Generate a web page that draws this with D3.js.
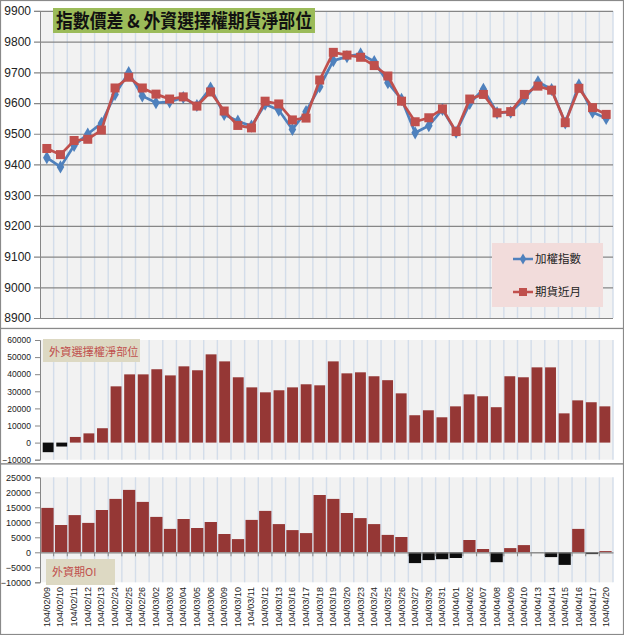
<!DOCTYPE html>
<html><head><meta charset="utf-8">
<script src="https://cdn.jsdelivr.net/npm/d3@7"></script>
<style>
body{margin:0;background:#fff;}
svg{display:block;font-family:"Liberation Sans",Arial,sans-serif;}
</style></head>
<body><svg id="c" width="624" height="635"></svg>
<script>
const dates = ["104/02/09","104/02/10","104/02/11","104/02/12","104/02/13","104/02/24","104/02/25","104/02/26","104/03/02","104/03/03","104/03/04","104/03/05","104/03/06","104/03/09","104/03/10","104/03/11","104/03/12","104/03/13","104/03/16","104/03/17","104/03/18","104/03/19","104/03/20","104/03/23","104/03/24","104/03/25","104/03/26","104/03/27","104/03/30","104/03/31","104/04/01","104/04/02","104/04/07","104/04/08","104/04/09","104/04/10","104/04/13","104/04/14","104/04/15","104/04/16","104/04/17","104/04/20"];
const taiex = [9422,9392,9462,9499,9534,9628,9699,9623,9601,9604,9618,9592,9649,9563,9541,9525,9596,9577,9514,9572,9653,9738,9751,9760,9735,9666,9612,9503,9526,9579,9505,9599,9645,9568,9570,9613,9669,9644,9535,9659,9570,9550];
const futures = [9452,9432,9478,9482,9512,9649,9684,9649,9629,9613,9620,9590,9636,9574,9527,9519,9606,9597,9545,9551,9675,9765,9756,9749,9722,9688,9606,9539,9552,9581,9507,9613,9628,9568,9572,9628,9655,9642,9536,9648,9585,9563];
const optionsNet = [-5600,-2300,3300,5400,8400,32900,39900,39900,42900,39300,44600,42300,51600,47500,38200,32300,29400,30600,32300,34100,33500,47500,40500,41100,38800,36500,28800,16000,18900,14800,21200,28200,27100,20700,38800,38200,44000,44000,17100,24700,23600,21200];
const futuresOI = [14800,9100,12400,9800,14100,17800,20800,16800,11800,7800,11100,8100,10100,6100,4400,10800,13800,9400,7400,6400,19100,17800,13100,11400,9400,5800,5100,-3600,-2600,-2300,-1900,4100,1100,-3300,1400,2400,-100,-1600,-4200,7800,-600,400];
const topTicks = [8900,9000,9100,9200,9300,9400,9500,9600,9700,9800,9900];
const midTicks = [-10000,0,10000,20000,30000,40000,50000,60000];
const botTicks = [-10000,-5000,0,5000,10000,15000,20000,25000];

const svg = d3.select("#c");
const L = 40, R = 613;
const x = d3.scaleBand().domain(dates).range([L, R]).padding(0);
const bw = x.bandwidth();
const cx = d => x(d) + bw/2;
const gridC = "#d3ddea", bgC = "#f2f2f2", axC = "#868686";

[[0.5,0.5,623,328],[0.5,328.5,623,135.5],[0.5,464,623,170.5]].forEach(p=>{
  svg.append("rect").attr("x",p[0]).attr("y",p[1]).attr("width",p[2]).attr("height",p[3])
    .attr("fill","#fff").attr("stroke","#8a8a8a").attr("stroke-width",1.2);
});

function plotBg(y0,y1){
  svg.append("rect").attr("x",L).attr("y",y0).attr("width",R-L).attr("height",y1-y0).attr("fill",bgC);
  svg.append("g").selectAll("line").data(dates.slice(1).concat(["__end"])).join("line")
    .attr("x1",d=>d==="__end"?R:x(d)).attr("x2",d=>d==="__end"?R:x(d))
    .attr("y1",y0).attr("y2",y1).attr("stroke",gridC).attr("stroke-width",1.4);
}

// ---------- top chart ----------
const yT = d3.scaleLinear().domain([8900,9900]).range([318,10.9]);
plotBg(10.9,318);
const gT = svg.append("g").attr("transform",`translate(${L},0)`)
  .call(d3.axisLeft(yT).tickValues(topTicks).tickSize(6).tickSizeInner(-(R-L)).tickPadding(9).tickFormat(d3.format("d")));
gT.select(".domain").attr("stroke",axC);
gT.selectAll(".tick line").attr("stroke",axC).attr("stroke-width",1.2).attr("x1",-6);
gT.selectAll(".tick text").attr("font-size",12).attr("fill","#222");

const line = arr => d3.line().x((d,i)=>cx(dates[i])).y(d=>yT(d))(arr);
svg.append("path").attr("d",line(taiex)).attr("fill","none").attr("stroke","#4f81bd").attr("stroke-width",2.7);
svg.append("g").selectAll("path").data(taiex).join("path")
  .attr("transform",(d,i)=>`translate(${cx(dates[i])},${yT(d)})`)
  .attr("d",d3.symbol(d3.symbolDiamond,50)).attr("fill","#4f81bd");
svg.append("path").attr("d",line(futures)).attr("fill","none").attr("stroke","#c0504d").attr("stroke-width",2.7);
svg.append("g").selectAll("rect").data(futures).join("rect")
  .attr("x",(d,i)=>cx(dates[i])-4.5).attr("y",d=>yT(d)-4.5).attr("width",9).attr("height",9).attr("fill","#c0504d");

// title
svg.append("rect").attr("x",53).attr("y",8).attr("width",262).attr("height",25).attr("fill","#9bbb59");
svg.append("text").attr("x",56).attr("y",28).attr("textLength",256).attr("lengthAdjust","spacingAndGlyphs")
  .attr("font-family","Noto Sans CJK TC, sans-serif").attr("font-weight","bold").attr("font-size",19).attr("fill","#111")
  .text("指數價差 & 外資選擇權期貨淨部位");

// legend
svg.append("rect").attr("x",492).attr("y",243).attr("width",111).attr("height",64).attr("fill","#f2dcdb");
const leg = [{t:"加權指數",c:"#4f81bd",m:"d",y:259},{t:"期貨近月",c:"#c0504d",m:"s",y:292}];
leg.forEach(l=>{
  svg.append("line").attr("x1",513).attr("x2",533).attr("y1",l.y).attr("y2",l.y).attr("stroke",l.c).attr("stroke-width",2.5);
  if(l.m==="d") svg.append("path").attr("transform",`translate(523,${l.y})`).attr("d",d3.symbol(d3.symbolDiamond,36)).attr("fill",l.c);
  else svg.append("rect").attr("x",519).attr("y",l.y-4).attr("width",8).attr("height",8).attr("fill",l.c);
  svg.append("text").attr("x",535).attr("y",l.y+4).attr("font-family","Noto Sans CJK TC, sans-serif")
    .attr("font-size",11.5).attr("fill","#222").text(l.t);
});

// ---------- middle chart ----------
const yM = d3.scaleLinear().domain([-10000,60000]).range([459.7,340]);
plotBg(340,459.7);
const gM = svg.append("g").attr("transform",`translate(${L},0)`)
  .call(d3.axisLeft(yM).tickValues(midTicks).tickSize(5).tickPadding(4).tickFormat(d3.format("d")));
gM.select(".domain").attr("stroke",axC);
gM.selectAll(".tick line").attr("stroke",axC);
gM.selectAll(".tick text").attr("font-size",8.5).attr("fill","#222");
const xM = d3.scaleBand().domain(dates).range([L,R]).padding(0.2);
svg.append("g").selectAll("rect").data(optionsNet).join("rect")
  .attr("x",(d,i)=>xM(dates[i])).attr("width",xM.bandwidth())
  .attr("y",d=>yM(Math.max(0,d))).attr("height",d=>Math.abs(yM(d)-yM(0)))
  .attr("fill",d=>d<0?"#0d0d0d":"#953735");
svg.append("rect").attr("x",43).attr("y",339).attr("width",97).attr("height",23).attr("fill","#ddd9c3");
svg.append("text").attr("x",49).attr("y",355.5).attr("font-family","Noto Sans CJK TC, sans-serif")
  .attr("font-size",11.2).attr("fill","#c0504d").text("外資選擇權淨部位");

// ---------- bottom chart ----------
const yB = d3.scaleLinear().domain([-10000,25000]).range([582.3,477.3]);
plotBg(477.3,582.3);
const gB = svg.append("g").attr("transform",`translate(${L},0)`)
  .call(d3.axisLeft(yB).tickValues(botTicks).tickSize(5).tickPadding(4).tickFormat(d3.format("d")));
gB.select(".domain").attr("stroke",axC);
gB.selectAll(".tick line").attr("stroke",axC);
gB.selectAll(".tick text").attr("font-size",9).attr("fill","#222");
const xB = d3.scaleBand().domain(dates).range([L,R]).padding(0.1);
svg.append("g").selectAll("rect").data(futuresOI).join("rect")
  .attr("x",(d,i)=>xB(dates[i])).attr("width",xB.bandwidth())
  .attr("y",d=>yB(Math.max(0,d))).attr("height",d=>Math.abs(yB(d)-yB(0)))
  .attr("fill",d=>d<0?"#0d0d0d":"#953735");
const gX = svg.append("g").attr("transform",`translate(0,${yB(0)})`)
  .call(d3.axisBottom(x).tickSize(0).tickFormat(""));
gX.select(".domain").attr("stroke",axC).attr("stroke-width",1.2);
svg.append("g").selectAll("line").data(dates.slice(1)).join("line")
  .attr("x1",d=>x(d)).attr("x2",d=>x(d)).attr("y1",yB(0)).attr("y2",yB(0)+4).attr("stroke",axC);
svg.append("g").selectAll("text").data(dates).join("text")
  .attr("transform",d=>`translate(${cx(d)+3},587) rotate(-90)`)
  .attr("text-anchor","end").attr("font-size",9).attr("fill","#222").text(d=>d);
svg.append("rect").attr("x",46).attr("y",559).attr("width",69).attr("height",26).attr("fill","#ddd9c3");
svg.append("text").attr("x",52).attr("y",576).attr("font-family","Noto Sans CJK TC, sans-serif")
  .attr("font-size",11).attr("fill","#c0504d").text("外資期OI");
</script></body></html>
